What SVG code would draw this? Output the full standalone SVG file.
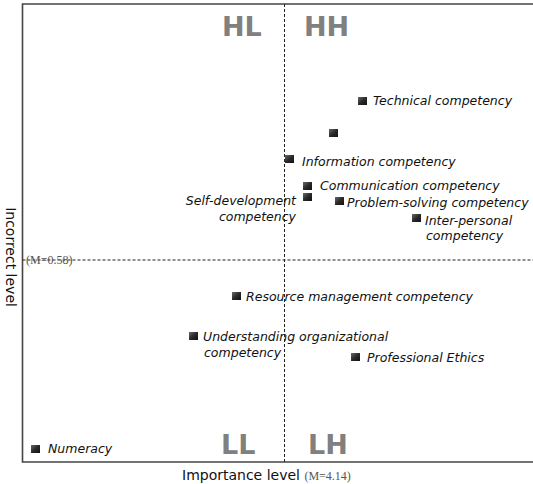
<svg xmlns="http://www.w3.org/2000/svg" width="533" height="484" viewBox="0 0 533 484">
<defs>
<linearGradient id="mk" x1="0" y1="0" x2="1" y2="1">
<stop offset="0" stop-color="#6a6a6a"/>
<stop offset="0.5" stop-color="#2a2a2a"/>
<stop offset="1" stop-color="#111"/>
</linearGradient>
<style>
.frame{fill:none;stroke:#444;stroke-width:1.6}
.dash{fill:none;stroke:#222;stroke-width:1;stroke-dasharray:3 2}
.mk{fill:url(#mk)}
.lbl{font-family:"DejaVu Sans",sans-serif;font-style:italic;font-size:12.5px;fill:#111}
.quad{font-family:"DejaVu Sans",sans-serif;font-weight:bold;font-size:27px;fill:#808080}
.axis{font-family:"DejaVu Sans",sans-serif;font-size:14px;fill:#111}
.mean{font-family:"Liberation Serif",serif;font-size:12px;fill:#555}
</style>
</defs>
<rect x="0" y="0" width="533" height="484" fill="#fff"/>
<g id="frame">
<polyline class="frame" points="533,4 22.5,4 22.5,462 533,462"/>
</g>
<g id="connectors">
<line class="dash" x1="284.5" y1="4" x2="284.5" y2="462"/>
<line class="dash" x1="22.5" y1="260" x2="533" y2="260"/>
</g>
<g id="quadrants">
<text class="quad" x="222" y="36">HL</text>
<text class="quad" x="304" y="36">HH</text>
<text class="quad" x="221" y="454">LL</text>
<text class="quad" x="308" y="454">LH</text>
</g>
<g id="mean-y"><text class="mean" x="26" y="264">(M=0.58)</text></g>
<g id="axis-x"><text class="axis" x="182" y="480">Importance level <tspan class="mean" style="fill:#555">(M=4.14)</tspan></text></g>
<g id="axis-y"><text class="axis" transform="translate(6,257) rotate(90)" text-anchor="middle">Incorrect level</text></g>
<g id="technical"><rect class="mk" x="358" y="97" width="9" height="8"/><text class="lbl" x="373" y="105">Technical competency</text></g>
<g id="unlabeled"><rect class="mk" x="329" y="129" width="9" height="8"/></g>
<g id="information"><rect class="mk" x="285" y="155" width="9" height="8"/><text class="lbl" x="302" y="166">Information competency</text></g>
<g id="communication"><rect class="mk" x="303" y="182" width="9" height="8"/><text class="lbl" x="320" y="190">Communication competency</text></g>
<g id="self-development"><rect class="mk" x="303" y="193" width="9" height="8"/><text class="lbl" x="296" y="205" text-anchor="end">Self-development</text><text class="lbl" x="296" y="221" text-anchor="end">competency</text></g>
<g id="problem-solving"><rect class="mk" x="335" y="197" width="9" height="8"/><text class="lbl" x="347" y="207">Problem-solving competency</text></g>
<g id="inter-personal"><rect class="mk" x="412" y="214" width="9" height="8"/><text class="lbl" x="425" y="225">Inter-personal</text><text class="lbl" x="426" y="240">competency</text></g>
<g id="resource"><rect class="mk" x="232" y="292" width="9" height="8"/><text class="lbl" x="246" y="301">Resource management competency</text></g>
<g id="understanding"><rect class="mk" x="189" y="332" width="9" height="8"/><text class="lbl" x="203" y="341">Understanding organizational</text><text class="lbl" x="204" y="357">competency</text></g>
<g id="ethics"><rect class="mk" x="351" y="353" width="9" height="8"/><text class="lbl" x="367" y="362">Professional Ethics</text></g>
<g id="numeracy"><rect class="mk" x="31" y="445" width="9" height="8"/><text class="lbl" x="48" y="453">Numeracy</text></g>
</svg>
